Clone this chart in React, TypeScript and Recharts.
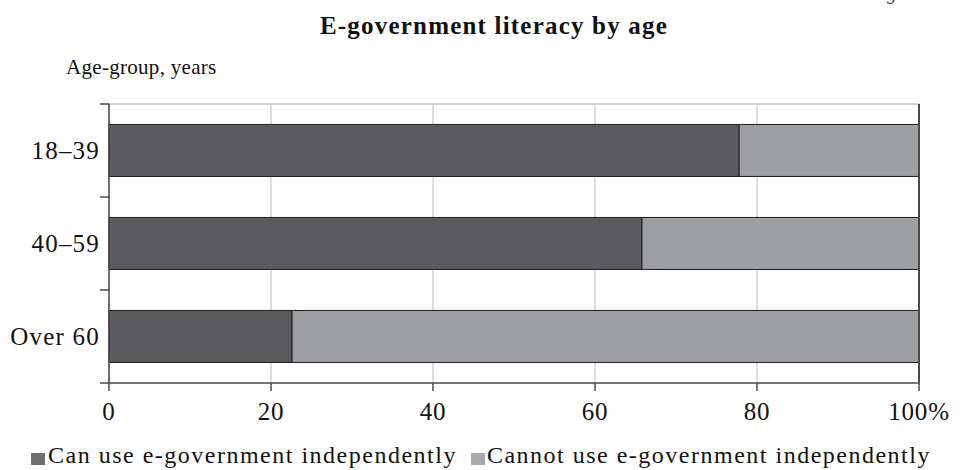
import { Bar, BarChart, CartesianGrid, ReferenceLine, XAxis, YAxis } from 'recharts';

const ageGroups = ['18–39', '40–59', 'Over 60'];
const canUse = [77.8, 65.8, 22.6];
const cannotUse = [22.2, 34.2, 77.4];
const xTicks = [0, 20, 40, 60, 80, 100];

const seriesNames = ['Can use e-government independently', 'Cannot use e-government independently'];

const data = ageGroups.map((group, i) => ({
  group,
  canUse: canUse[i],
  cannotUse: cannotUse[i],
}));

const WIDTH = 973;
const HEIGHT = 470;
const TOP = 104;
const BOTTOM = 87;
const FONT = '"Liberation Serif", "Times New Roman", serif';
const DARK = '#5b5b5d';
const LIGHT = '#9e9fa2';
const AXIS = '#4a4a4a';

const bandHalf = (HEIGHT - TOP - BOTTOM) / ageGroups.length / 2;

function AgeTick(props: any) {
  const { x, y, payload, index } = props;
  const axisX = x + 8;
  return (
    <g>
      <line x1={axisX - 9} x2={axisX} y1={y - bandHalf} y2={y - bandHalf} stroke={AXIS} strokeWidth={1.5} />
      {index === ageGroups.length - 1 && (
        <line x1={axisX - 9} x2={axisX} y1={y + bandHalf} y2={y + bandHalf} stroke={AXIS} strokeWidth={1.5} />
      )}
      <text
        x={axisX - 9}
        y={y}
        dy={8}
        textAnchor="end"
        fontFamily={FONT}
        fontSize={25}
        letterSpacing={1.2}
        fill="#111"
      >
        {payload.value}
      </text>
    </g>
  );
}

function PercentTick(props: any) {
  const { x, y, payload } = props;
  return (
    <text x={x} y={y} dy={27} textAnchor="middle" fontFamily={FONT} fontSize={25} letterSpacing={0.8} fill="#111">
      {payload.value === 100 ? '100%' : payload.value}
    </text>
  );
}

export default function App() {
  return (
    <div style={{ position: 'absolute', left: 0, top: 0, width: WIDTH, height: HEIGHT, background: '#fff', fontFamily: FONT, color: '#111', overflow: 'hidden' }}>
      <div style={{ position: 'absolute', left: 870, top: -17, fontSize: 19, fontStyle: 'italic', color: '#444' }}>
        Figure 6
      </div>
      <div
        style={{
          position: 'absolute',
          left: 0,
          width: 988,
          top: 12,
          textAlign: 'center',
          fontSize: 25,
          fontWeight: 'bold',
          letterSpacing: 1.2,
        }}
      >
        E-government literacy by age
      </div>
      <div style={{ position: 'absolute', left: 66, top: 55, fontSize: 21, letterSpacing: 0.3 }}>Age-group, years</div>

      <BarChart
        width={WIDTH}
        height={HEIGHT}
        data={data}
        layout="vertical"
        margin={{ top: TOP, right: 54, left: 9, bottom: BOTTOM - 30 }}
        barCategoryGap="22%"
      >
        <CartesianGrid horizontal={false} vertical stroke="#bdbdbd" strokeWidth={1} />
        <CartesianGrid horizontal vertical={false} horizontalPoints={[TOP]} stroke="#c4c4c4" strokeWidth={1.5} />
        <XAxis
          type="number"
          domain={[0, 100]}
          ticks={xTicks}
          tick={<PercentTick />}
          tickSize={8}
          axisLine={{ stroke: AXIS, strokeWidth: 1.5 }}
          tickLine={{ stroke: AXIS, strokeWidth: 1.5 }}
          height={30}
        />
        <YAxis
          type="category"
          dataKey="group"
          width={100}
          tick={<AgeTick />}
          tickLine={false}
          axisLine={{ stroke: AXIS, strokeWidth: 1.5 }}
        />
        <ReferenceLine x={100} stroke={AXIS} strokeWidth={2} />
        <Bar dataKey="canUse" stackId="a" fill={DARK} stroke="#1e1e1e" strokeWidth={1} isAnimationActive={false} />
        <Bar dataKey="cannotUse" stackId="a" fill={LIGHT} stroke="#1e1e1e" strokeWidth={1} isAnimationActive={false} />
      </BarChart>

      <div style={{ position: 'absolute', left: 31, top: 442, fontSize: 24, letterSpacing: 1.5, display: 'flex', alignItems: 'center', whiteSpace: 'nowrap' }}>
        <span style={{ display: 'inline-block', width: 14, height: 12, background: '#6f6f71', marginRight: 3, marginTop: 6 }} />
        <span>{seriesNames[0]}</span>
        <span style={{ display: 'inline-block', width: 14, height: 12, background: '#a9aaad', marginLeft: 14, marginRight: 2, marginTop: 6 }} />
        <span>{seriesNames[1]}</span>
      </div>
    </div>
  );
}
